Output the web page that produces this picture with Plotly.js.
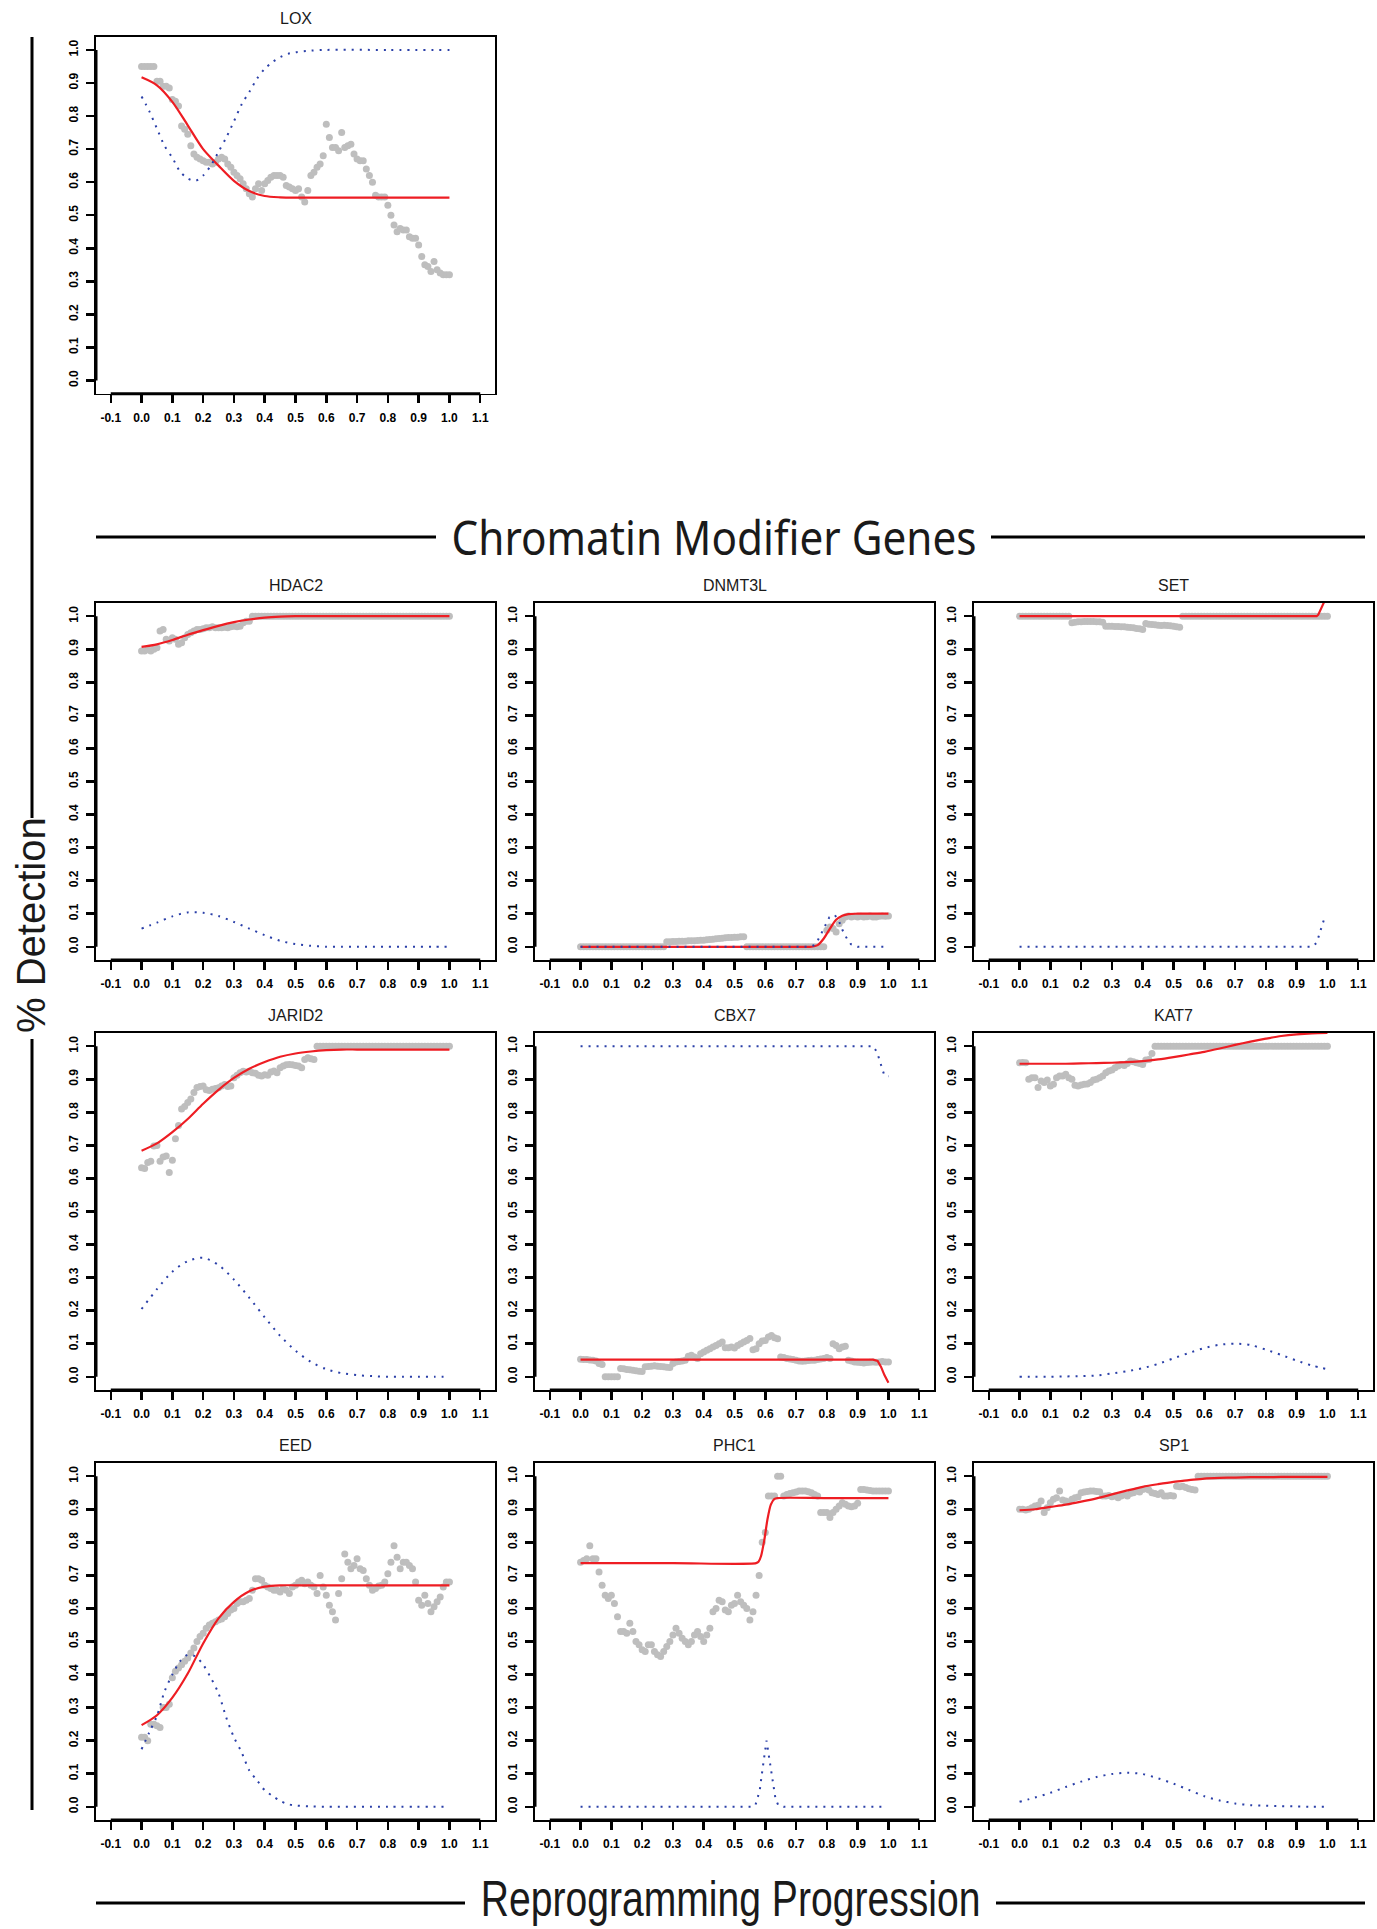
<!DOCTYPE html>
<html><head><meta charset="utf-8">
<script src="https://cdn.plot.ly/plotly-3.0.1.min.js"></script>
<style>html,body{margin:0;padding:0;background:#fff;}#chart{width:1377px;height:1929px;}</style>
</head><body><div id="chart"></div>
<script>
// ---------- tick labels ----------
const xTickVals = [-0.1,0,0.1,0.2,0.3,0.4,0.5,0.6,0.7,0.8,0.9,1.0,1.1];
const xTickText = ["-0.1","0.0","0.1","0.2","0.3","0.4","0.5","0.6","0.7","0.8","0.9","1.0","1.1"];
const yTickVals = [0,0.1,0.2,0.3,0.4,0.5,0.6,0.7,0.8,0.9,1.0];
const yTickText = ["0.0","0.1","0.2","0.3","0.4","0.5","0.6","0.7","0.8","0.9","1.0"];

// ---------- shared x positions ----------
const grayX = [0,0.01,0.02,0.03,0.04,0.05,0.06,0.07,0.08,0.09,0.10,0.11,0.12,0.13,0.14,0.15,0.16,0.17,0.18,0.19,0.20,0.21,0.22,0.23,0.24,0.25,0.26,0.27,0.28,0.29,0.30,0.31,0.32,0.33,0.34,0.35,0.36,0.37,0.38,0.39,0.40,0.41,0.42,0.43,0.44,0.45,0.46,0.47,0.48,0.49,0.50,0.51,0.52,0.53,0.54,0.55,0.56,0.57,0.58,0.59,0.60,0.61,0.62,0.63,0.64,0.65,0.66,0.67,0.68,0.69,0.70,0.71,0.72,0.73,0.74,0.75,0.76,0.77,0.78,0.79,0.80,0.81,0.82,0.83,0.84,0.85,0.86,0.87,0.88,0.89,0.90,0.91,0.92,0.93,0.94,0.95,0.96,0.97,0.98,0.99,1.00];
const curveX = [0,0.05,0.1,0.15,0.2,0.25,0.3,0.35,0.4,0.45,0.5,0.55,0.6,0.65,0.7,0.75,0.8,0.85,0.9,0.95,1.0];
const fineX = [0,0.025,0.05,0.075,0.1,0.125,0.15,0.175,0.2,0.225,0.25,0.275,0.3,0.325,0.35,0.375,0.4,0.425,0.45,0.475,0.5,0.55,0.6,0.8,1.0];

// ---------- LOX ----------
const loxGray = [0.95,0.95,0.95,0.95,0.95, 0.905,0.905,0.89,0.89,0.885, 0.85,0.845,0.83,0.77,0.76, 0.745,0.71,0.685,0.675,0.67, 0.665,0.66,0.66,0.655,0.66, 0.67,0.675,0.67,0.655,0.645, 0.63,0.62,0.61,0.595,0.58, 0.565,0.555,0.58,0.595,0.575, 0.595,0.605,0.615,0.62,0.62, 0.62,0.615,0.59,0.585,0.58, 0.575,0.58,0.555,0.54,0.575, 0.62,0.63,0.645,0.655,0.68, 0.775,0.735,0.705,0.705,0.695, 0.75,0.705,0.71,0.715,0.685, 0.67,0.665,0.665,0.64,0.62, 0.6,0.56,0.555,0.555,0.555, 0.53,0.5,0.47,0.45,0.46, 0.455,0.455,0.435,0.43,0.43, 0.41,0.375,0.35,0.345,0.33, 0.36,0.335,0.325,0.32,0.32, 0.32];
const loxRed = [0.917,0.893,0.843,0.772,0.70,0.65,0.604,0.573,0.558,0.554,0.553,0.553,0.553,0.553,0.553,0.553,0.553,0.553,0.553,0.553,0.553];
const loxBlue = [0.859,0.815,0.762,0.709,0.674,0.632,0.611,0.604,0.62,0.65,0.692,0.735,0.784,0.835,0.873,0.913,0.943,0.963,0.978,0.988,0.993,0.998,1.0,1.0,1.0];

// ---------- HDAC2 ----------
const hdac2Gray = [0.895,0.895,0.9,0.895,0.9, 0.905,0.955,0.96,0.93,0.925, 0.935,0.93,0.915,0.92,0.935, 0.945,0.95,0.955,0.96,0.96, 0.962,0.965,0.965,0.968,0.965, 0.965,0.965,0.967,0.965,0.968, 0.97,0.968,0.97,0.98,0.985, 0.985,
 1,1,1,1,1,1,1,1,1,1, 1,1,1,1,1,1,1,1,1,1, 1,1,1,1,1,1,1,1,1,1, 1,1,1,1,1,1,1,1,1,1, 1,1,1,1,1,1,1,1,1,1, 1,1,1,1,1,1,1,1,1,1, 1,1,1,1,1];
const hdac2Red = [0.907,0.915,0.928,0.944,0.958,0.971,0.982,0.99,0.996,0.999,1,1,1,1,1,1,1,1,1,1,1];
const hdac2Blue = [0.055,0.073,0.092,0.104,0.103,0.093,0.075,0.055,0.035,0.018,0.008,0.003,0,0,0,0,0,0,0,0,0];

// ---------- DNMT3L ----------
const dnmt3lGray = [0,0,0,0,0,0,0,0,0,0, 0,0,0,0,0,0,0,0,0,0, 0,0,0,0,0,0,0,0,
 0.015,0.015,0.016,0.016,0.017,0.017,0.017,0.018,0.018,0.018,0.019,0.02,0.02,0.021,0.022,0.023,0.024,0.025,0.026,0.027,0.028,0.028,0.029,0.029,0.03,0.03,
 0,0,0,0,0,0,0,0,0,0, 0,0,0,0,0,0,0,0,0,0, 0,0,0,0,0,0,
 0.05,0.06,0.055,0.045,0.07,0.08,0.09,0.093,0.09,0.092,0.09,0.092,0.09,0.091,0.093,0.09,0.09,0.092,0.093,0.092,0.093];
const dnmt3lRedX = [0,0.7,0.75,0.77,0.79,0.81,0.83,0.85,0.87,0.9,1.0];
const dnmt3lRed = [0,0,0,0.005,0.025,0.055,0.082,0.094,0.099,0.1,0.1];
const dnmt3lBlueX = [0,0.74,0.76,0.772,0.783,0.797,0.808,0.826,0.84,0.851,0.865,0.878,0.9,0.987];
const dnmt3lBlue = [0,0,0.005,0.022,0.042,0.066,0.089,0.096,0.076,0.05,0.025,0.008,0,0];

// ---------- SET ----------
const setGray = [1,1,1,1,1,1,1,1,1,1, 1,1,1,1,1,1,1,
 0.98,0.982,0.983,0.983,0.984,0.984,0.984,0.984,0.983,0.983,0.982,
 0.97,0.97,0.97,0.969,0.969,0.968,0.968,0.967,0.966,0.965,0.963,0.962,0.96,
 0.978,0.976,0.975,0.974,0.973,0.972,0.973,0.972,0.971,0.97,0.968,0.967,
 1,1,1,1,1,1,1,1,1,1, 1,1,1,1,1,1,1,1,1,1, 1,1,1,1,1,1,1,1,1,1, 1,1,1,1,1,1,1,1,1,1, 1,1,1,1,1,1,1,1];
const setRedX = [0,0.5,0.96,0.965,0.97,0.978,0.989,1.0];
const setRed = [1,1,1,1.0,1.004,1.02,1.04,1.065];
const setBlueX = [0,0.5,0.95,0.965,0.973,0.98,0.989,0.998];
const setBlue = [0,0,0,0.012,0.035,0.06,0.083,0.093];

// ---------- JARID2 ----------
const jarid2Gray = [0.632,0.63,0.648,0.652,0.698,0.70,0.652,0.665,0.668,0.618, 0.655,0.72,0.76,0.81,0.818,0.83,0.84,0.86,0.875,0.878, 0.88,0.868,0.866,0.87,0.872,0.874,0.88,0.884,0.878,0.88, 0.905,0.912,0.92,0.924,0.922,0.924,0.92,0.918,0.912,0.91, 0.914,0.912,0.922,0.925,0.92,0.935,0.94,0.944,0.945,0.944, 0.942,0.94,0.935,0.96,0.965,0.962,0.96,
 1,1,1,1,1,1,1,1,1,1, 1,1,1,1,1,1,1,1,1,1, 1,1,1,1,1,1,1,1,1,1, 1,1,1,1,1,1,1,1,1,1, 1,1,1,1];
const jarid2Red = [0.684,0.706,0.74,0.78,0.826,0.868,0.904,0.932,0.952,0.968,0.978,0.984,0.988,0.99,0.99,0.99,0.99,0.99,0.99,0.99,0.99];
const jarid2Blue = [0.205,0.265,0.318,0.35,0.36,0.338,0.294,0.239,0.18,0.124,0.079,0.045,0.023,0.011,0.005,0.002,0,0,0,0,0];

// ---------- CBX7 ----------
const cbx7Gray = [0.053,0.052,0.052,0.051,0.05,0.048,0.04,0.037,0.0,0.0, 0.0,0.0,0.0,0.025,0.024,0.022,0.021,0.02,0.018,0.017, 0.016,0.03,0.031,0.032,0.033,0.032,0.031,0.03,0.029,0.028, 0.04,0.045,0.046,0.048,0.05,0.062,0.065,0.06,0.055,0.07, 0.075,0.08,0.085,0.09,0.095,0.1,0.105,0.088,0.088,0.09, 0.087,0.095,0.1,0.105,0.11,0.116,0.082,0.085,0.1,0.108, 0.11,0.12,0.125,0.118,0.115,0.06,0.058,0.055,0.054,0.052, 0.05,0.048,0.047,0.048,0.049,0.05,0.05,0.052,0.054,0.055, 0.058,0.055,0.1,0.095,0.085,0.09,0.092,0.05,0.048,0.045, 0.044,0.043,0.042,0.043,0.044,0.045,0.044,0.045,0.046,0.045, 0.045];
const cbx7RedX = [0,0.5,0.95,0.965,0.976,0.987,1.0];
const cbx7Red = [0.052,0.052,0.052,0.048,0.03,0.005,-0.018];
const cbx7BlueX = [0,0.5,0.95,0.963,0.971,0.978,0.987,1.0];
const cbx7Blue = [1,1,1,0.982,0.96,0.934,0.911,0.909];

// ---------- KAT7 ----------
const kat7Gray = [0.95,0.951,0.95,0.9,0.905,0.905,0.875,0.895,0.89,0.898, 0.88,0.885,0.905,0.91,0.91,0.915,0.905,0.9,0.882,0.88, 0.883,0.885,0.886,0.89,0.898,0.9,0.905,0.91,0.92,0.925, 0.928,0.935,0.94,0.945,0.942,0.948,0.955,0.953,0.95,0.948, 0.945,0.958,0.96,0.978,
 1,1,1,1,1,1,1,1,1,1, 1,1,1,1,1,1,1,1,1,1, 1,1,1,1,1,1,1,1,1,1, 1,1,1,1,1,1,1,1,1,1, 1,1,1,1,1,1,1,1,1,1, 1,1,1,1,1,1,1];
const kat7Red = [0.947,0.947,0.947,0.947,0.948,0.949,0.95,0.952,0.955,0.96,0.967,0.975,0.983,0.993,1.004,1.014,1.023,1.031,1.036,1.039,1.04];
const kat7Blue = [0,0,0,0.001,0.002,0.004,0.01,0.017,0.026,0.039,0.056,0.072,0.087,0.097,0.1,0.096,0.082,0.066,0.049,0.034,0.023];

// ---------- EED ----------
const eedGray = [0.21,0.21,0.2,0.25,0.25,0.245,0.24,0.3,0.3,0.31, 0.39,0.41,0.42,0.43,0.44,0.45,0.465,0.48,0.5,0.515, 0.525,0.54,0.55,0.555,0.56,0.565,0.568,0.575,0.585,0.595, 0.6,0.615,0.62,0.62,0.625,0.63,0.655,0.69,0.69,0.685, 0.67,0.665,0.66,0.655,0.655,0.65,0.66,0.655,0.645,0.665, 0.67,0.68,0.685,0.675,0.68,0.67,0.665,0.645,0.70,0.665, 0.64,0.61,0.59,0.565,0.645,0.69,0.765,0.74,0.72,0.73, 0.75,0.72,0.715,0.69,0.67,0.655,0.66,0.668,0.67,0.68, 0.705,0.74,0.79,0.755,0.72,0.74,0.74,0.73,0.72,0.68, 0.625,0.61,0.64,0.615,0.59,0.605,0.62,0.635,0.665,0.68, 0.68];
const eedRed = [0.247,0.277,0.33,0.403,0.494,0.57,0.62,0.652,0.666,0.67,0.67,0.67,0.67,0.67,0.67,0.67,0.67,0.67,0.67,0.67,0.67];
const eedBlue = [0.174,0.225,0.275,0.35,0.4,0.44,0.46,0.455,0.43,0.39,0.343,0.27,0.21,0.165,0.11,0.08,0.05,0.033,0.018,0.008,0.004,0.001,0,0,0];

// ---------- PHC1 ----------
const phc1Gray = [0.74,0.745,0.75,0.79,0.75,0.75,0.71,0.67,0.64,0.63, 0.64,0.615,0.575,0.53,0.53,0.525,0.555,0.53,0.50,0.49, 0.475,0.47,0.49,0.49,0.47,0.46,0.455,0.47,0.485,0.5, 0.52,0.54,0.525,0.51,0.5,0.49,0.5,0.52,0.53,0.515, 0.5,0.52,0.54,0.59,0.6,0.625,0.62,0.595,0.59,0.61, 0.615,0.64,0.62,0.61,0.6,0.565,0.59,0.64,0.7,0.8, 0.83,0.94,0.94,0.94,1.0,1.0,0.94,0.945,0.948,0.95, 0.952,0.955,0.955,0.955,0.953,0.95,0.945,0.94,0.89,0.89, 0.89,0.875,0.89,0.9,0.91,0.92,0.915,0.91,0.908,0.91, 0.918,0.96,0.96,0.958,0.957,0.955,0.955,0.955,0.955,0.955, 0.955];
const phc1RedX = [0,0.3,0.57,0.578,0.586,0.597,0.607,0.618,0.629,0.64,0.8,1.0];
const phc1Red = [0.737,0.737,0.737,0.741,0.758,0.808,0.869,0.914,0.931,0.934,0.934,0.934];
const phc1BlueX = [0,0.3,0.56,0.568,0.575,0.582,0.589,0.597,0.604,0.612,0.62,0.627,0.633,0.642,0.66,0.8,0.99];
const phc1Blue = [0,0,0,0.005,0.025,0.05,0.1,0.152,0.2,0.152,0.1,0.05,0.025,0.005,0,0,0];

// ---------- SP1 ----------
const sp1Gray = [0.9,0.9,0.898,0.9,0.905,0.91,0.912,0.925,0.89,0.905, 0.92,0.93,0.935,0.955,0.928,0.925,0.922,0.93,0.935,0.937, 0.95,0.952,0.954,0.955,0.955,0.954,0.953,0.94,0.94,0.942, 0.938,0.94,0.935,0.94,0.945,0.94,0.948,0.95,0.955,0.952, 0.96,0.962,0.958,0.95,0.948,0.945,0.95,0.94,0.94,0.942, 0.94,0.97,0.968,0.97,0.966,0.962,0.96,0.958,
 1,1,1,1,1,1,1,1,1,1, 1,1,1,1,1,1,1,1,1,1, 1,1,1,1,1,1,1,1,1,1, 1,1,1,1,1,1,1,1,1,1, 1,1,1];
const sp1Red = [0.897,0.9,0.907,0.914,0.923,0.933,0.945,0.957,0.968,0.976,0.983,0.988,0.993,0.995,0.996,0.997,0.997,0.998,0.998,0.998,0.998];
const sp1Blue = [0.015,0.028,0.042,0.06,0.076,0.09,0.099,0.103,0.099,0.086,0.07,0.051,0.032,0.019,0.01,0.005,0.003,0.002,0.001,0,0];

// ---------- panels (name, row, col, series) ----------
const panels = [
  {name:"LOX",    row:0,col:0,gray:loxGray,   redX:curveX,     red:loxRed,    rs:'spline',blueX:fineX,      blue:loxBlue,    bs:'spline'},
  {name:"HDAC2",  row:1,col:0,gray:hdac2Gray, redX:curveX,     red:hdac2Red,  rs:'spline',blueX:curveX,     blue:hdac2Blue,  bs:'spline'},
  {name:"DNMT3L", row:1,col:1,gray:dnmt3lGray,redX:dnmt3lRedX, red:dnmt3lRed, rs:'spline',blueX:dnmt3lBlueX,blue:dnmt3lBlue, bs:'linear'},
  {name:"SET",    row:1,col:2,gray:setGray,   redX:setRedX,    red:setRed,    rs:'linear',blueX:setBlueX,   blue:setBlue,    bs:'linear'},
  {name:"JARID2", row:2,col:0,gray:jarid2Gray,redX:curveX,     red:jarid2Red, rs:'spline',blueX:curveX,     blue:jarid2Blue, bs:'spline'},
  {name:"CBX7",   row:2,col:1,gray:cbx7Gray,  redX:cbx7RedX,   red:cbx7Red,   rs:'linear',blueX:cbx7BlueX,  blue:cbx7Blue,   bs:'linear'},
  {name:"KAT7",   row:2,col:2,gray:kat7Gray,  redX:curveX,     red:kat7Red,   rs:'spline',blueX:curveX,     blue:kat7Blue,   bs:'spline'},
  {name:"EED",    row:3,col:0,gray:eedGray,   redX:curveX,     red:eedRed,    rs:'spline',blueX:fineX,      blue:eedBlue,    bs:'spline'},
  {name:"PHC1",   row:3,col:1,gray:phc1Gray,  redX:phc1RedX,   red:phc1Red,   rs:'spline',blueX:phc1BlueX,  blue:phc1Blue,   bs:'linear'},
  {name:"SP1",    row:3,col:2,gray:sp1Gray,   redX:curveX,     red:sp1Red,    rs:'spline',blueX:curveX,     blue:sp1Blue,    bs:'spline'}
];

// ---------- layout geometry (pixels) ----------
const W = 1377, H = 1929;
const colLeft = [96, 535, 974], boxW = 399;
const rowTop = [36.7, 603, 1033, 1463], boxH = 357;
const tickFont = "'Liberation Sans',Arial,sans-serif";
const titleFont = "'Liberation Sans',Arial,sans-serif";
const px = v => v / W, py = v => 1 - v / H;

const traces = [];
const layout = {
  width: W, height: H, margin: {l:0,r:0,t:0,b:0},
  paper_bgcolor: '#fff', plot_bgcolor: '#fff', showlegend: false,
  shapes: [], annotations: []
};

panels.forEach((p, i) => {
  const k = i + 1;
  const xa = k === 1 ? 'x' : 'x' + k;
  const ya = k === 1 ? 'y' : 'y' + k;
  const L = colLeft[p.col], T = rowTop[p.row];
  traces.push({x: grayX, y: p.gray, xaxis: xa, yaxis: ya, type: 'scatter', mode: 'markers',
    marker: {size: 7, color: '#bebebe'}, hoverinfo: 'skip', showlegend: false});
  traces.push({x: p.redX, y: p.red, xaxis: xa, yaxis: ya, type: 'scatter', mode: 'lines',
    line: {color: '#ee1d23', width: 2.2, shape: p.rs, smoothing: 0.8}, hoverinfo: 'skip', showlegend: false});
  traces.push({x: p.blueX, y: p.blue, xaxis: xa, yaxis: ya, type: 'scatter', mode: 'lines',
    line: {color: '#2a3fa8', width: 2, dash: '2px,6px', shape: p.bs, smoothing: 0.8}, hoverinfo: 'skip', showlegend: false});
  const common = {showline: true, mirror: true, linecolor: '#000', linewidth: 1.6,
    showgrid: false, zeroline: false, ticks: 'outside', ticklen: 8, tickwidth: 2.5, tickcolor: '#000',
    tickfont: {family: tickFont, size: 12, color: '#000', weight: 'bold'}, fixedrange: true};
  layout['xaxis' + (k === 1 ? '' : k)] = Object.assign({}, common, {
    domain: [px(L), px(L + boxW)], anchor: ya, range: [-0.148, 1.148],
    tickmode: 'array', tickvals: xTickVals, ticktext: xTickText, tickangle: 0, ticklabelstandoff: 4});
  layout['yaxis' + (k === 1 ? '' : k)] = Object.assign({}, common, {
    domain: [py(T + boxH), py(T)], anchor: xa, range: [-0.04, 1.04],
    tickmode: 'array', tickvals: yTickVals, ticktext: yTickText, tickangle: -90, ticklabelstandoff: 4});
  // thick R-style axis lines spanning the tick range
  layout.shapes.push({type: 'line', xref: xa, yref: ya + ' domain', x0: -0.1, x1: 1.1, y0: 0, y1: 0,
    line: {color: '#000', width: 3}});
  layout.shapes.push({type: 'line', xref: xa + ' domain', yref: ya, x0: 0, x1: 0, y0: 0, y1: 1,
    line: {color: '#000', width: 3}});
  layout.annotations.push({xref: 'paper', yref: 'paper', x: px(L + boxW / 2), y: py(T - 18),
    text: p.name, showarrow: false, xanchor: 'center', yanchor: 'middle',
    font: {family: titleFont, size: 16, color: '#1a1a1a'}});
});

// section header / footer titles with rules
const headerText = 'Chromatin Modifier Genes', footerText = 'Reprogramming Progression';
const targetWidths = {};
targetWidths[headerText] = 525;
targetWidths[footerText] = 500;
layout.annotations.push({xref: 'paper', yref: 'paper', x: px(714), y: py(536), text: headerText,
  showarrow: false, xanchor: 'center', yanchor: 'middle', font: {family: "'Noto Sans','Open Sans',sans-serif", size: 48, color: '#1a1a1a'}});
layout.annotations.push({xref: 'paper', yref: 'paper', x: px(730), y: py(1899), text: footerText,
  showarrow: false, xanchor: 'center', yanchor: 'middle', font: {family: "'Liberation Sans',Arial,sans-serif", size: 50, color: '#1a1a1a'}});
layout.annotations.push({xref: 'paper', yref: 'paper', x: px(31), y: py(925), text: '% Detection', textangle: -90,
  showarrow: false, xanchor: 'center', yanchor: 'middle', font: {family: "'Liberation Sans',Arial,sans-serif", size: 40, color: '#1a1a1a'}});
const ruleLines = [
  [96, 537, 436, 537], [991, 537, 1365, 537],
  [96, 1903, 465, 1903], [996, 1903, 1365, 1903],
  [32, 37, 32, 818], [32, 1039, 32, 1810]
];
ruleLines.forEach(r => layout.shapes.push({type: 'line', xref: 'paper', yref: 'paper',
  x0: px(r[0]), y0: py(r[1]), x1: px(r[2]), y1: py(r[3]), line: {color: '#000', width: 3}}));

Plotly.newPlot('chart', traces, layout, {staticPlot: true, displayModeBar: false}).then(() => {
  // condense the two big captions horizontally to the reference's width
  document.querySelectorAll('.annotation-text').forEach(t => {
    const target = targetWidths[t.textContent];
    if (!target) return;
    const w = t.getBBox().width;
    if (w > 0) {
      t.style.transformBox = 'fill-box';
      t.style.transformOrigin = 'center';
      t.style.transform = 'scaleX(' + (target / w).toFixed(3) + ')';
    }
  });
});
</script>
</body></html>
